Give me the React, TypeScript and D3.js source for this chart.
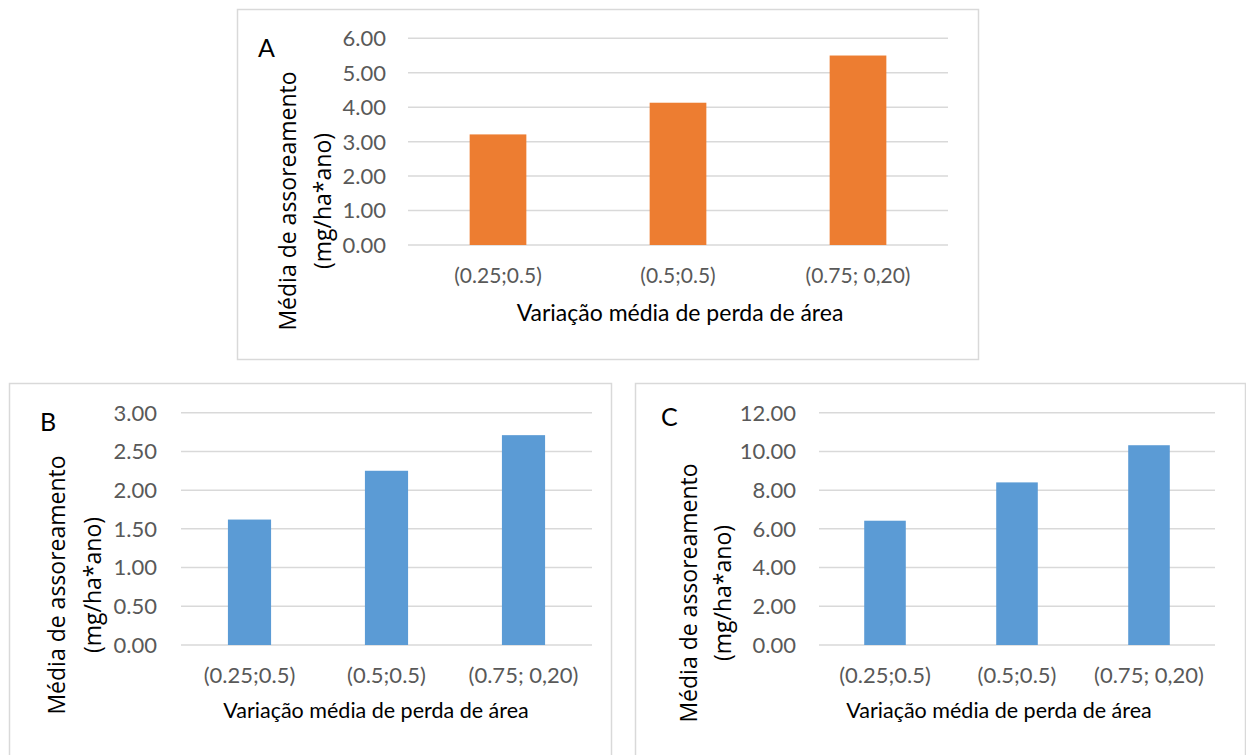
import React from "react";
import * as d3 from "d3";

// Categories and values shown in the three panels
const categories = ["(0.25;0.5)", "(0.5;0.5)", "(0.75; 0,20)"];
const valuesA = [3.21, 4.13, 5.5];
const valuesB = [1.62, 2.25, 2.71];
const valuesC = [6.42, 8.4, 10.32];
const ticksA = [0, 1, 2, 3, 4, 5, 6];
const ticksB = [0, 0.5, 1, 1.5, 2, 2.5, 3];
const ticksC = [0, 2, 4, 6, 8, 10, 12];

const yTitle1 = "Média de assoreamento";
const yTitle2 = "(mg/ha*ano)";
const xTitle = "Variação média de perda de área";

const ORANGE = "#ED7D31";
const BLUE = "#5B9BD5";
const GRID = "#D9D9D9";
const TICK = "#595959";
const NARROW = "Lato, 'Open Sans', sans-serif";
const WIDE = "'Open Sans', 'DejaVu Sans', sans-serif";

type PanelProps = {
  letter: string;
  values: number[];
  ticks: number[];
  color: string;
  box: { x: number; y: number; w: number; h: number };
  plot: { x0: number; x1: number; y0: number; y1: number };
  tickRight: number;
  letterPos: [number, number];
  letterSize: number;
  yTitleX: [number, number];
  yTitleY: number;
  xLabelY: number;
  xLabelSize: number;
  xTitleY: number;
  xTitleX: number;
  xTitleSize: number;
};

function Panel(p: PanelProps) {
  const x = d3
    .scaleBand<string>()
    .domain(categories)
    .range([p.plot.x0, p.plot.x1])
    .paddingInner(0.685)
    .paddingOuter(0.3425);
  const y = d3
    .scaleLinear()
    .domain([p.ticks[0], p.ticks[p.ticks.length - 1]])
    .range([p.plot.y1, p.plot.y0]);
  return (
    <g>
      <rect
        x={p.box.x + 0.5}
        y={p.box.y + 0.5}
        width={p.box.w}
        height={p.box.h}
        fill="#fff"
        stroke={GRID}
        strokeWidth={1.5}
      />
      {p.ticks.map((t) => (
        <g key={t}>
          <line
            x1={p.plot.x0}
            x2={p.plot.x1}
            y1={y(t)}
            y2={y(t)}
            stroke={GRID}
            strokeWidth={1.5}
          />
          <text
            x={p.tickRight}
            y={y(t)}
            dy="0.36em"
            textAnchor="end"
            fontFamily={NARROW}
            fontSize={22}
            fill={TICK}
          >
            {d3.format(".2f")(t)}
          </text>
        </g>
      ))}
      {categories.map((c, i) => (
        <rect
          key={c}
          x={x(c)!}
          width={x.bandwidth()}
          y={y(p.values[i])}
          height={y(0) - y(p.values[i])}
          fill={p.color}
        />
      ))}
      {categories.map((c) => (
        <text
          key={c}
          x={x(c)! + x.bandwidth() / 2}
          y={p.xLabelY}
          textAnchor="middle"
          fontFamily={NARROW}
          fontSize={p.xLabelSize}
          fill={TICK}
        >
          {c}
        </text>
      ))}
      <text
        x={p.xTitleX}
        y={p.xTitleY}
        textAnchor="middle"
        fontFamily={NARROW}
        fontSize={p.xTitleSize}
        fill="#000"
      >
        {xTitle}
      </text>
      <text
        transform={`translate(${p.yTitleX[0]},${p.yTitleY}) rotate(-90)`}
        dy="0.35em"
        textAnchor="middle"
        fontFamily={WIDE}
        fontSize={23}
        fill="#000"
      >
        {yTitle1}
      </text>
      <text
        transform={`translate(${p.yTitleX[1]},${p.yTitleY}) rotate(-90)`}
        dy="0.35em"
        textAnchor="middle"
        fontFamily={WIDE}
        fontSize={23}
        fill="#000"
      >
        {yTitle2}
      </text>
      <text
        x={p.letterPos[0]}
        y={p.letterPos[1]}
        fontFamily={NARROW}
        fontSize={p.letterSize}
        fill="#000"
      >
        {p.letter}
      </text>
    </g>
  );
}

export default function App() {
  return (
    <svg
      width={1246}
      height={755}
      style={{ position: "absolute", left: 0, top: 0, background: "#fff" }}
    >
      <rect width={1246} height={755} fill="#fff" />
      <Panel
        letter="A"
        values={valuesA}
        ticks={ticksA}
        color={ORANGE}
        box={{ x: 237, y: 9, w: 741, h: 350 }}
        plot={{ x0: 408, x1: 948, y0: 38.3, y1: 245 }}
        tickRight={386}
        letterPos={[258, 57]}
        letterSize={25}
        yTitleX={[288, 322.5]}
        yTitleY={201}
        xLabelY={283}
        xLabelSize={21}
        xTitleY={321}
        xTitleX={680}
        xTitleSize={23}
      />
      <Panel
        letter="B"
        values={valuesB}
        ticks={ticksB}
        color={BLUE}
        box={{ x: 9, y: 383, w: 602, h: 400 }}
        plot={{ x0: 181, x1: 592, y0: 412.7, y1: 645 }}
        tickRight={157}
        letterPos={[40, 431]}
        letterSize={25}
        yTitleX={[57, 93]}
        yTitleY={585}
        xLabelY={683}
        xLabelSize={22}
        xTitleY={718}
        xTitleX={376}
        xTitleSize={21.5}
      />
      <Panel
        letter="C"
        values={valuesC}
        ticks={ticksC}
        color={BLUE}
        box={{ x: 635, y: 383, w: 610, h: 400 }}
        plot={{ x0: 819, x1: 1215, y0: 412.7, y1: 645 }}
        tickRight={796}
        letterPos={[661, 426]}
        letterSize={25}
        yTitleX={[688.5, 723]}
        yTitleY={593}
        xLabelY={683}
        xLabelSize={22}
        xTitleY={718}
        xTitleX={999}
        xTitleSize={21.5}
      />
    </svg>
  );
}
